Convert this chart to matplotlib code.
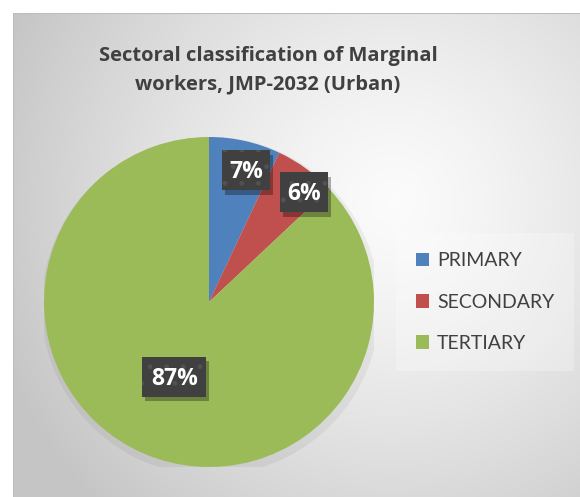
import numpy as np
import matplotlib
matplotlib.use("Agg")
import matplotlib.pyplot as plt
from matplotlib.patches import Patch, Rectangle
import matplotlib.transforms as mtransforms

# data
sectors = ["PRIMARY", "SECONDARY", "TERTIARY"]
shares = [7, 6, 87]
colors = ["#4F81BD", "#C0504D", "#9BBB59"]
title = "Sectoral classification of Marginal\nworkers, JMP-2032 (Urban)"

W, H = 580, 497
fig = plt.figure(figsize=(W / 100, H / 100), dpi=100)
fig.patch.set_facecolor("white")

# radial gradient background of the chart area
bg = fig.add_axes([13 / W, 0, 1 - 13 / W, 1 - 13 / H])
bg.set_axis_off()
yy, xx = np.mgrid[0:484, 0:567]
cx, cy = 380, 190
d = np.sqrt((xx - cx) ** 2 + (yy - cy) ** 2) / 420.0
d = np.clip(d, 0, 1)
g = 0.985 - 0.21 * d ** 1.3
bg.imshow(np.dstack([g, g, g]), aspect="auto", extent=[0, 1, 0, 1], origin="upper")
bg.set_xlim(0, 1)
bg.set_ylim(0, 1)
bg.plot([0, 0], [0, 1], color="#bdbdbd", lw=1.5)
bg.plot([0, 1], [1, 1], color="#bdbdbd", lw=1.5)

fig.text(268 / W, 1 - 70 / H, title, ha="center", va="center",
         fontsize=14.5, fontweight="bold", family="Open Sans", color="#404040",
         linespacing=1.6)

# pie
cxp, cyp, r = 209, 302, 165
ax = fig.add_axes([(cxp - r) / W, (H - cyp - r) / H, 2 * r / W, 2 * r / H])
ax.set_axis_off()
shadow = plt.Circle((0.01, -0.025), 1.025, color="#000000", alpha=0.05, lw=0)
ax.add_patch(shadow)
wedges, _ = ax.pie(shares, colors=colors, startangle=90, counterclock=False,
                   radius=1, wedgeprops=dict(linewidth=0))
ax.set_xlim(-1, 1)
ax.set_ylim(-1, 1)
ax.set_aspect("equal")

# data labels: dark dotted boxes with a drop shadow
dist = [0.83, 0.88, 0.5]
nudge = [-3, -5, -1.5]
for w, v, rr, nd in zip(wedges, shares, dist, nudge):
    ang = np.deg2rad((w.theta1 + w.theta2) / 2 + nd)
    px, py = rr * np.cos(ang), rr * np.sin(ang)
    lab = f"{v}%"
    bw = (32 + 16 * len(str(v))) / 100.0   # inches
    bh = 0.40
    at = fig.dpi_scale_trans + mtransforms.ScaledTranslation(px, py, ax.transData)
    ax.add_patch(Rectangle((-bw / 2 + 0.03, -bh / 2 - 0.045), bw, bh, transform=at,
                           facecolor="black", alpha=0.3, lw=0))
    ax.add_patch(Rectangle((-bw / 2, -bh / 2), bw, bh, transform=at,
                           facecolor="#404040", edgecolor="#525252", hatch=".", lw=0))
    ax.text(0, -0.08, lab, transform=at, ha="center", va="baseline",
            fontsize=16.5, fontweight="bold", family="Open Sans", color="white")

handles = [Patch(facecolor=c, edgecolor="none") for c in colors]
leg = fig.legend(handles, sectors, loc="center left",
                 bbox_to_anchor=(402 / W, (H - 302) / H), borderaxespad=0,
                 frameon=True, handlelength=0.7, handleheight=0.7,
                 handletextpad=0.4, labelspacing=1.25, borderpad=0.7,
                 prop=dict(family="Lato", size=14))
leg.get_frame().set_facecolor("white")
leg.get_frame().set_alpha(0.25)
leg.get_frame().set_edgecolor("none")
leg.get_frame().set_boxstyle("square")
for txt in leg.get_texts():
    txt.set_color("#404040")

fig.savefig("out.png", dpi=100)
